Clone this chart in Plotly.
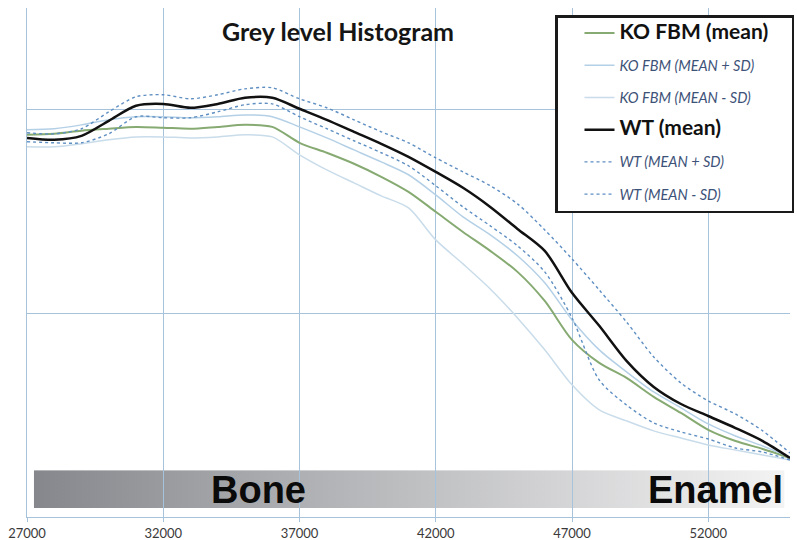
import base64
import plotly.graph_objects as go

# ---------------- data ----------------
grey_level = [27000, 28000, 29000, 30000, 31000, 32000, 33000, 34000, 35000, 36000,
              37000, 38000, 39000, 40000, 41000, 42000, 43000, 44000, 45000, 46000,
              47000, 48000, 49000, 50000, 51000, 52000, 53000, 54000, 55000]

ko_mean = [1877, 1882, 1897, 1907, 1916, 1912, 1907, 1916, 1926, 1916,
           1838, 1789, 1735, 1671, 1597, 1499, 1400, 1307, 1204, 1061,
           870, 757, 683, 590, 511, 428, 373, 334, 290]
ko_plus = [1902, 1907, 1926, 1951, 1966, 1966, 1961, 1966, 1975, 1966,
           1916, 1862, 1803, 1744, 1681, 1582, 1474, 1386, 1283, 1150,
           968, 821, 713, 614, 536, 457, 398, 349, 295]
ko_minus = [1818, 1818, 1833, 1853, 1867, 1867, 1862, 1867, 1877, 1867,
            1779, 1705, 1641, 1577, 1518, 1361, 1243, 1120, 978, 821,
            649, 526, 472, 423, 388, 354, 329, 305, 280]
wt_mean = [1862, 1853, 1872, 1946, 2020, 2029, 2010, 2029, 2059, 2059,
           2005, 1951, 1892, 1833, 1769, 1695, 1617, 1523, 1415, 1307,
           1101, 939, 767, 639, 555, 496, 437, 373, 290]
wt_plus = [1887, 1882, 1907, 1990, 2064, 2074, 2054, 2074, 2103, 2108,
           2054, 2010, 1951, 1892, 1838, 1764, 1695, 1627, 1538, 1410,
           1268, 1115, 958, 786, 658, 570, 506, 423, 314]
wt_minus = [1843, 1838, 1838, 1882, 1966, 1961, 1961, 1990, 2025, 2029,
            1966, 1907, 1848, 1789, 1725, 1627, 1523, 1430, 1332, 1204,
            978, 673, 550, 462, 418, 383, 339, 319, 280]

tick_vals = [27000, 32000, 37000, 42000, 47000, 52000]
tick_text = ["27000", "32000", "37000", "42000", "47000", "52000"]

title_text = "Grey level Histogram"
bar_labels = ["Bone", "Enamel"]
bar_label_x = [35480, 52257]

# ---------------- figure ----------------
NB = "&nbsp;"

def big(t, pad=0):
    return "<span style='font-size:21px'><b>" + t + "</b></span>" + NB * pad

def small(t):
    return "<span style='font-size:14.5px;color:#3d5278'><i>" + t + "</i></span>"

series = [
    (big("KO FBM (mean)", 5), ko_mean, dict(color="#86aa72", width=2)),
    (small("KO FBM (MEAN + SD)"), ko_plus, dict(color="#b4d0e6", width=1.5)),
    (small("KO FBM (MEAN - SD)"), ko_minus, dict(color="#c9dcea", width=1.5)),
    (big("WT (mean)"), wt_mean, dict(color="#111111", width=2.5)),
    (small("WT (MEAN + SD)"), wt_plus, dict(color="#5f8fc2", width=1.4, dash="dot")),
    (small("WT (MEAN - SD)"), wt_minus, dict(color="#5f8fc2", width=1.4, dash="dot")),
]

fig = go.Figure()
for i, (name, ys, line) in enumerate(series):
    line = dict(line, shape="spline", smoothing=0.8)
    fig.add_trace(go.Scatter(x=grey_level, y=ys, mode="lines", name=name,
                             line=line, legendgroup="g%d" % i))

grid_c = "#a6c3db"

svg = ('<svg xmlns="http://www.w3.org/2000/svg" width="200" height="20" viewBox="0 0 200 20" '
       'preserveAspectRatio="none"><defs><linearGradient id="g" x1="0" x2="1" y1="0" y2="0">'
       '<stop offset="0" stop-color="#86878c"/><stop offset="0.35" stop-color="#aeafb2"/>'
       '<stop offset="1" stop-color="#f3f3f3"/></linearGradient></defs>'
       '<rect width="200" height="20" fill="url(#g)"/></svg>')
src = "data:image/svg+xml;base64," + base64.b64encode(svg.encode()).decode()

fig.add_layout_image(dict(source=src, xref="x", yref="y", x=27250, y=230,
                          sizex=27550, sizey=186, xanchor="left", yanchor="top",
                          sizing="stretch", layer="below"))

for lab, xv in zip(bar_labels, bar_label_x):
    fig.add_annotation(x=xv, y=135, xref="x", yref="y", text="<b>" + lab + "</b>",
                       showarrow=False, font=dict(family="Liberation Sans", size=38, color="#0a0a0a"))

fig.update_layout(
    width=797, height=540,
    margin=dict(l=27, r=7, t=8, b=23, autoexpand=False),
    paper_bgcolor="white", plot_bgcolor="white",
    title=dict(text="<b>" + title_text + "</b>", x=(338 - 27) / 763, xref="paper", xanchor="center",
               y=1 - 32 / 540, yref="container", yanchor="middle",
               font=dict(family="Lato", size=25, color="#151515")),
    showlegend=True,
    legend=dict(x=(555 - 27) / 763, y=(517 - 15) / 509, xanchor="left", yanchor="top",
                bgcolor="white", bordercolor="#1a1a1a", borderwidth=2.5,
                font=dict(family="Lato", size=14, color="#111111"),
                tracegroupgap=11, indentation=22, itemwidth=30),
    xaxis=dict(range=[27000, 55000], tickvals=tick_vals, ticktext=tick_text,
               automargin=False,
               showgrid=True, gridcolor=grid_c, gridwidth=1,
               showline=True, linecolor=grid_c, linewidth=1,
               ticks="outside", ticklen=4, tickcolor=grid_c,
               tickfont=dict(family="Lato", size=13, color="#3a3a3a"),
               zeroline=False),
    yaxis=dict(range=[0, 2500], dtick=1000, showticklabels=False, automargin=False,
               showgrid=True, gridcolor=grid_c, gridwidth=1,
               showline=True, linecolor=grid_c, linewidth=1, zeroline=False),
)

fig.write_html("out.html", config={"displayModeBar": False},
               post_script="document.body.style.margin='0px';")
